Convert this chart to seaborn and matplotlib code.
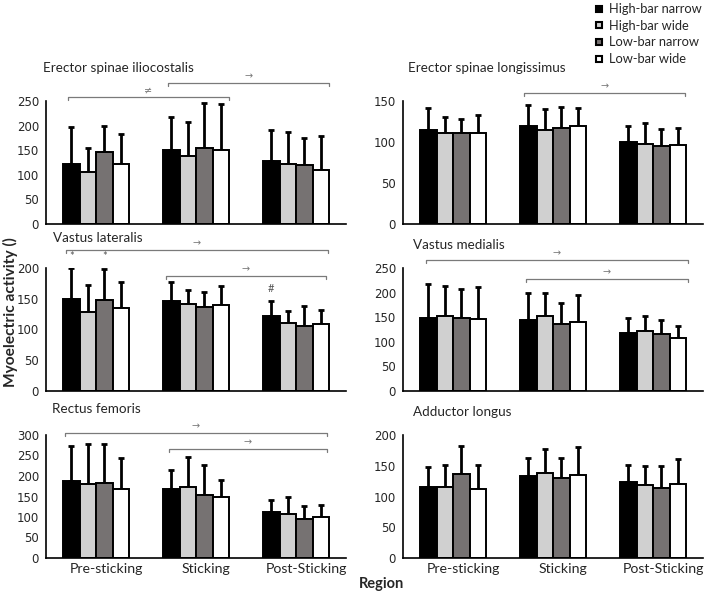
import numpy as np
import pandas as pd
import matplotlib
matplotlib.use("Agg")
import matplotlib.pyplot as plt
import matplotlib.transforms as mtransforms
from matplotlib.lines import Line2D
import seaborn as sns

# categories
phases = ['Pre-sticking', 'Sticking', 'Post-Sticking']
conditions = ['High-bar narrow', 'High-bar wide', 'Low-bar narrow', 'Low-bar wide']
colors = ['#000000', '#d0d0d0', '#777171', '#ffffff']

# means and SD, phase-major (4 conditions per phase)
ilio_mean = [122, 105, 147, 121, 151, 138, 154, 151, 129, 121, 120, 110]
ilio_sd = [76, 50, 53, 61, 67, 70, 92, 92, 63, 67, 54, 69]
long_mean = [115, 111, 111, 111, 119, 115, 117, 120, 100, 97, 95, 96]
long_sd = [27, 20, 17, 22, 26, 25, 26, 21, 19, 26, 21, 21]
vl_mean = [150, 129, 148, 135, 146, 142, 136, 140, 122, 110, 106, 109]
vl_sd = [50, 43, 50, 42, 32, 23, 25, 30, 24, 20, 33, 23]
vm_mean = [149, 153, 148, 147, 145, 153, 136, 141, 118, 122, 116, 107]
vm_sd = [69, 61, 60, 65, 55, 47, 43, 55, 31, 31, 29, 25]
rf_mean = [188, 180, 182, 169, 169, 172, 154, 150, 111, 108, 96, 101]
rf_sd = [85, 99, 96, 75, 46, 75, 72, 41, 31, 41, 31, 29]
al_mean = [116, 116, 136, 112, 133, 138, 130, 135, 124, 118, 114, 121]
al_sd = [32, 36, 46, 39, 30, 39, 33, 45, 28, 31, 35, 40]

W, H = 708, 592

# (title, mean, sd, ymax, brackets[(x0, x1, y, symbol)], title pos px)
panels = [
    ('Erector spinae iliocostalis', ilio_mean, ilio_sd, 250,
     [(-0.28, 1.33, 258, '≠'), (0.72, 2.33, 286, '→')], (43, 68)),
    ('Erector spinae longissimus', long_mean, long_sd, 150,
     [(0.71, 2.32, 160, '→')], (408, 68)),
    ('Vastus lateralis', vl_mean, vl_sd, 200,
     [(-0.30, 2.32, 229, '→'), (0.70, 2.30, 187, '→')], (53, 238)),
    ('Vastus medialis', vm_mean, vm_sd, 250,
     [(-0.27, 2.35, 267, '→'), (0.73, 2.35, 227, '→')], (413, 245)),
    ('Rectus femoris', rf_mean, rf_sd, 300,
     [(-0.31, 2.31, 305, '→'), (0.73, 2.31, 266, '→')], (52, 409)),
    ('Adductor longus', al_mean, al_sd, 200, [], (413, 412)),
]

sns.set_style('white')
plt.rcParams['font.family'] = ['Lato', 'DejaVu Sans']

fig = plt.figure(figsize=(W / 100, H / 100), dpi=100)

lefts = [46 / W, 403 / W]
bottoms = [1 - 224 / H, 1 - 391 / H, 1 - 558 / H]
aw, ah = 300 / W, 123 / H

for k, (title, mean, sd, ymax, brackets, tpos) in enumerate(panels):
    row, col = k // 2, k % 2
    ax = fig.add_axes([lefts[col], bottoms[row], aw, ah])
    df = pd.DataFrame({
        'phase': np.repeat(phases, 4),
        'cond': conditions * 3,
        'val': mean,
    })
    sns.barplot(data=df, x='phase', y='val', hue='cond', order=phases,
                hue_order=conditions, palette=colors, width=0.66,
                edgecolor='black', linewidth=1.4, errorbar=None,
                legend=False, ax=ax, zorder=2)
    bar_conts = list(ax.containers)
    # upper-only error bars
    for i, cont in enumerate(bar_conts):
        for j, bar in enumerate(cont):
            xc = bar.get_x() + bar.get_width() / 2
            ax.errorbar(xc, bar.get_height(), yerr=[[0], [sd[j * 4 + i]]],
                        fmt='none', ecolor='black', elinewidth=2,
                        capsize=2.5, capthick=2, zorder=1)
    ax.set_xlim(-0.5, 2.5)
    ax.set_ylim(0, ymax)
    ax.set_yticks(np.arange(0, ymax + 1, 50))
    ax.set_xlabel('')
    ax.set_ylabel('')
    ax.set_xticks([0.5, 1.5, 2.5], minor=True)
    ax.tick_params(axis='x', which='major', length=0)
    ax.tick_params(axis='x', which='minor', length=3, direction='inout',
                   width=1)
    ax.tick_params(axis='y', length=3, width=1.2, direction='out',
                   labelsize=8.5, pad=2)
    for lab in ax.get_yticklabels():
        lab.set_family('DejaVu Sans')
    if row < 2:
        ax.set_xticklabels([])
    else:
        ax.set_xticklabels(phases, fontsize=10.2)
        off = mtransforms.ScaledTranslation(10 / 100, 0, fig.dpi_scale_trans)
        for lab in ax.get_xticklabels():
            lab.set_transform(lab.get_transform() + off)
    for s in ['top', 'right']:
        ax.spines[s].set_visible(False)
    for s in ['left', 'bottom']:
        ax.spines[s].set_color('black')
        ax.spines[s].set_linewidth(1.2)

    d = ymax * 3 / 123
    for x0, x1, y, sym in brackets:
        ax.plot([x0, x0, x1, x1], [y - d, y, y, y - d], color='#7a7a7a',
                lw=0.9, clip_on=False)
        ax.text((x0 + x1) / 2, y + d * 0.6, sym, ha='center', va='bottom',
                fontsize=7, color='#7a7a7a', family='DejaVu Sans')

    fig.text(tpos[0] / W, 1 - tpos[1] / H, title, fontsize=9.7,
             ha='left', va='center')

    if title == 'Vastus lateralis':
        b0 = bar_conts[0][0]
        b2 = bar_conts[2][0]
        bp = bar_conts[0][2]
        for b, yv, s in [(b0, 210, '*'), (b2, 210, '*'), (bp, 157, '#')]:
            ax.text(b.get_x() + b.get_width() / 2, yv, s, ha='center',
                    va='bottom', fontsize=8, color='#555555')

# legend
handles = [Line2D([], [], marker='s', linestyle='none', markersize=5,
                  markerfacecolor=c, markeredgecolor='black',
                  markeredgewidth=1.5) for c in colors]
fig.legend(handles, conditions, loc='upper left',
           bbox_to_anchor=(589 / W, 1 + 3 / H), frameon=False,
           fontsize=9.3, handlelength=0.6, handletextpad=0.45,
           labelspacing=0.35, borderpad=0)

fig.text(10 / W, 1 - 312 / H, 'Myoelectric activity ()', rotation=90,
         ha='center', va='center', fontsize=11.2, fontweight='bold')
fig.text(382 / W, 1 - 584 / H, 'Region', ha='center', va='center',
         fontsize=10.5, fontweight='bold')

fig.savefig('out.png', dpi=100)
